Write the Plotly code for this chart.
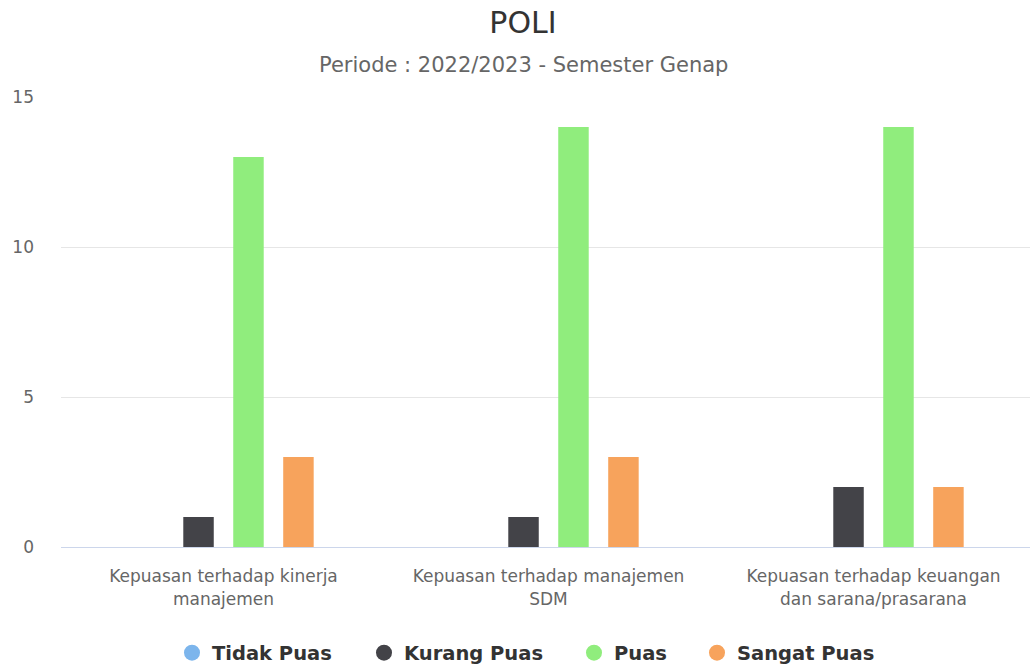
import plotly.graph_objects as go

categories = [
    "Kepuasan terhadap kinerja<br>manajemen",
    "Kepuasan terhadap manajemen<br>SDM",
    "Kepuasan terhadap keuangan<br>dan sarana/prasarana",
]
series_names = ["Tidak Puas", "Kurang Puas", "Puas", "Sangat Puas"]
tidak_puas = [0, 0, 0]
kurang_puas = [1, 1, 2]
puas = [13, 14, 14]
sangat_puas = [3, 3, 2]
colors = ["#7cb5ec", "#434348", "#90ed7d", "#f7a35c"]
y_ticks = [0, 5, 10, 15]

# legend item text start positions (px) for separate legend boxes
legend_text_x = [213, 405, 615, 738]
legend_ids = ["legend", "legend2", "legend3", "legend4"]

W, H = 1036, 668
L, T, B = 61, 97, 121
PW, PH = W - L, H - T - B

FONT = "DejaVu Sans"
fig = go.Figure()
for name, vals, c in zip(series_names, [tidak_puas, kurang_puas, puas, sangat_puas], colors):
    fig.add_trace(go.Bar(x=categories, y=vals, name=name, marker=dict(color=c, line_width=0),
                         showlegend=False))
for name, c, lid in zip(series_names, colors, legend_ids):
    fig.add_trace(go.Scatter(x=[None], y=[None], mode="markers", name=name, legend=lid,
                             marker=dict(symbol="circle", size=21, color=c)))

legends = {}
for lid, tx in zip(legend_ids, legend_text_x):
    legends[lid] = dict(orientation="h", xref="container", yref="container",
                        x=(tx - 41) / W, xanchor="left",
                        y=1 - 653 / H, yanchor="middle",
                        font=dict(family=FONT, size=19.5, color="#333333", weight="bold"),
                        itemwidth=30, bgcolor="rgba(0,0,0,0)")

fig.update_layout(
    width=W, height=H,
    margin=dict(l=L, r=0, t=T, b=B),
    paper_bgcolor="white", plot_bgcolor="white",
    barmode="group", bargap=0.385, bargroupgap=0.39,
    title=dict(text="POLI", x=523 / W, xref="container", y=1 - 22 / H, yref="container",
               yanchor="middle", font=dict(family=FONT, size=30, color="#333333")),
    annotations=[dict(text="Periode : 2022/2023 - Semester Genap", xref="paper", yref="paper",
                      x=(523 - L) / PW, y=(T + PH - 65) / PH, showarrow=False, yanchor="middle",
                      font=dict(family=FONT, size=21, color="#666666"))],
    xaxis=dict(showgrid=False, showline=True, linecolor="#ccd6eb", linewidth=1,
               tickfont=dict(family=FONT, size=17, color="#666666"),
               ticks="outside", ticklen=14, tickcolor="rgba(0,0,0,0)",
               fixedrange=True),
    yaxis=dict(range=[0, 15], tickvals=y_ticks, showgrid=True, gridcolor="#e6e6e6",
               zeroline=False, tickfont=dict(family=FONT, size=17, color="#666666"),
               ticklabelstandoff=26, fixedrange=True),
    font=dict(family=FONT),
    **legends,
)
fig.write_html("out.html", config={"displayModeBar": False},
               post_script="document.body.style.margin='0';document.body.style.overflow='hidden';")
